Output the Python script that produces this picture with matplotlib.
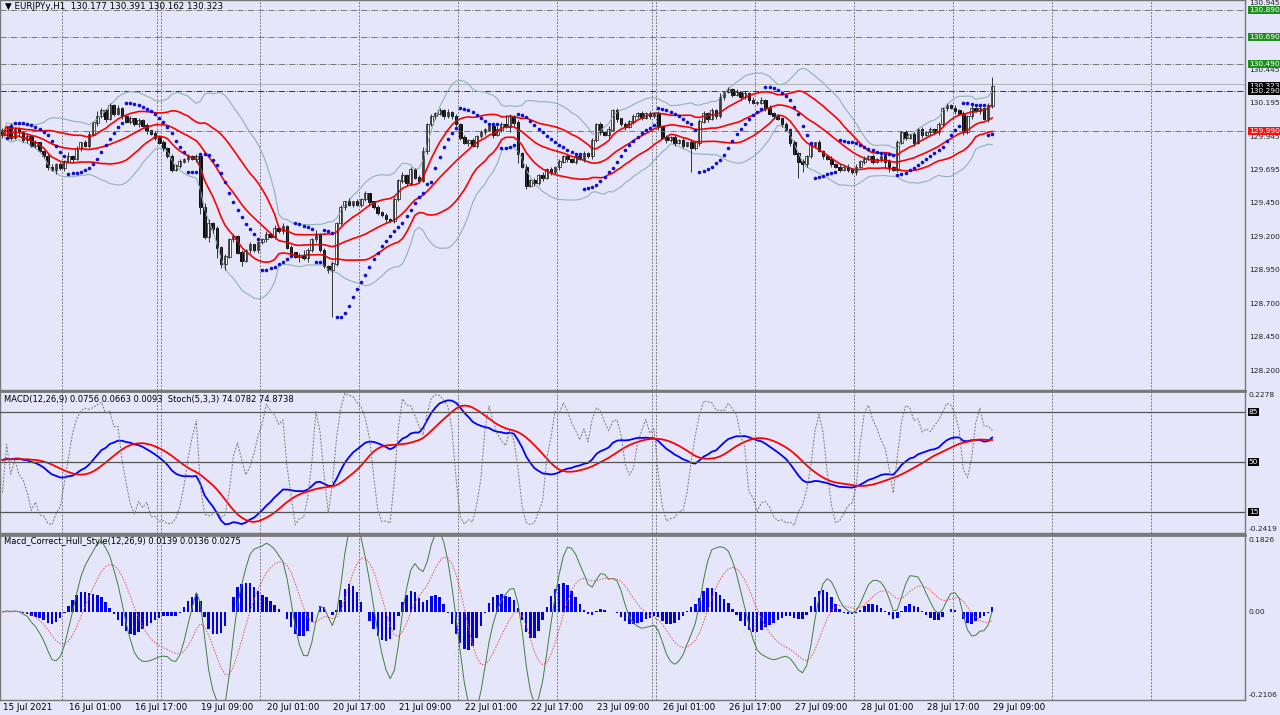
import numpy as np
import pandas as pd
import matplotlib
matplotlib.use("Agg")
import matplotlib.pyplot as plt
import matplotlib.transforms as mtransforms

# ---------------- data ----------------
closes = [
129.96,130.02,129.94,130.00,129.98,129.92,129.95,129.88,129.90,129.84,129.80,129.72,129.70,129.74,129.71,
129.76,129.80,129.78,129.86,129.90,129.88,129.96,130.05,130.10,130.14,130.08,130.18,130.12,130.16,130.10,130.06,130.08,130.04,130.07,130.03,129.99,129.97,129.94,129.90,
129.86,129.80,129.70,129.73,129.76,129.78,129.80,129.78,129.80,129.42,129.20,129.30,129.26,129.12,129.00,129.05,129.18,129.20,129.08,129.02,129.10,129.14,129.10,129.16,
129.18,129.22,129.20,129.26,129.24,129.28,129.12,129.08,129.05,129.06,129.04,129.10,129.18,129.22,129.10,128.98,128.95,129.00,129.30,129.42,129.46,129.44,129.46,129.44,
129.48,129.52,129.46,129.42,129.38,129.36,129.33,129.32,129.48,129.62,129.66,129.60,129.70,129.64,129.62,129.84,130.04,130.10,130.12,130.14,130.10,130.13,130.10,130.04,
129.94,129.90,129.92,129.88,129.95,129.98,130.00,130.02,129.96,130.00,130.04,130.02,130.10,130.05,129.82,129.72,129.58,129.62,129.60,129.66,129.64,129.70,129.68,129.72,
129.76,129.80,129.78,129.76,129.80,129.78,129.82,129.80,129.92,130.04,129.98,129.96,130.00,130.14,130.08,130.04,130.02,130.06,130.10,130.12,130.09,130.12,130.10,130.12,
130.02,129.94,129.92,129.94,129.90,129.92,129.88,129.90,129.86,129.90,130.06,130.12,130.08,130.14,130.10,130.24,130.28,130.30,130.26,130.28,130.24,130.27,130.22,130.20,
130.20,130.22,130.16,130.12,130.10,130.08,130.04,130.00,129.90,129.82,129.76,129.74,129.80,129.88,129.90,129.84,129.80,129.78,129.74,129.72,129.70,129.72,129.70,129.68,
129.72,129.76,129.78,129.80,129.76,129.78,129.80,129.76,129.72,129.70,129.90,129.98,129.94,129.96,129.90,130.00,129.96,129.98,130.00,129.98,130.04,130.16,130.18,130.16,
130.14,130.12,129.98,130.10,130.16,130.14,130.16,130.08,130.177,130.323]
first_open = 129.99
# wick sizes in 0.01 units (base-36 digits)
wick_up = ("2131212121 1221213121 2314212121 1212121212 1212121213 3121212121 2121213121 "
           "2124213121 2121312121 1212121212 1231212121 2121212121 3272121212 1212121212 "
           "1212121312 1212121212 1212121212 2121312121 2121212121 2121212121 1212121212 "
           "1212121212 1212121212 1212121212 7")
wick_dn = ("2121312121 1213121212 1212121212 1212121212 1212121252 4383512141 2121212121 "
           "2141312112 z212121212 1212121212 1212121212 1212121212 1214271212 1212121212 "
           "1212121212 1212121212 1212121i12 1212121212 1212121212 121c621212 1212121212 "
           "1212541212 1212121212 1212121212 2")
levels_green = [130.890, 130.690, 130.490]
level_black = 130.290
level_red = 129.990
price_ticks = [130.945, 130.445, 130.195, 129.945, 129.695, 129.450, 129.200, 128.950, 128.700, 128.450, 128.200]

c = np.array(closes)
n = len(c)
o = np.concatenate([[first_open], c[:-1]])
o[-1] = 130.177
wu = np.array([int(ch, 36) for ch in wick_up.replace(" ", "")]) * 0.01
wd = np.array([int(ch, 36) for ch in wick_dn.replace(" ", "")]) * 0.01
h = np.maximum(o, c) + wu[:n]
l = np.minimum(o, c) - wd[:n]
h[-1], l[-1] = 130.391, 130.162

# times (hourly, weekdays only)
times = []
t = pd.Timestamp("2021-07-15 09:00")
while len(times) < n:
    if t.weekday() < 5:
        times.append(t)
    t += pd.Timedelta(hours=1)

s = pd.Series(c)
ma = s.rolling(20, min_periods=1).mean()
sd = s.rolling(20, min_periods=2).std(ddof=0).fillna(0)
bb_up, bb_lo = ma + 2 * sd, ma - 2 * sd
rd_up, rd_lo = ma + 1 * sd, ma - 1 * sd

# Parabolic SAR
sar = np.zeros(n); up = True; af = 0.02; ep = h[0]; sar[0] = l[0]
for i in range(1, n):
    sar[i] = sar[i-1] + af * (ep - sar[i-1])
    if up:
        sar[i] = min(sar[i], l[i-1], l[max(i-2, 0)])
        if l[i] < sar[i]:
            up = False; sar[i] = ep; ep = l[i]; af = 0.02
        elif h[i] > ep:
            ep = h[i]; af = min(af + 0.02, 0.2)
    else:
        sar[i] = max(sar[i], h[i-1], h[max(i-2, 0)])
        if h[i] > sar[i]:
            up = True; sar[i] = ep; ep = h[i]; af = 0.02
        elif l[i] < ep:
            ep = l[i]; af = min(af + 0.02, 0.2)

macd = s.ewm(span=12, adjust=False).mean() - s.ewm(span=26, adjust=False).mean()
sig = macd.rolling(9, min_periods=1).mean()
hh = pd.Series(h).rolling(5, min_periods=1).max(); ll = pd.Series(l).rolling(5, min_periods=1).min()
num = (s - ll).rolling(3, min_periods=1).sum(); den = (hh - ll).rolling(3, min_periods=1).sum()
stoch = 100 * num / den.replace(0, np.nan)

def wma(x, p):
    w = np.arange(1, p + 1)
    return x.rolling(p, min_periods=1).apply(lambda a: np.dot(a, w[-len(a):]) / w[-len(a):].sum(), raw=True)
def hma(x, p):
    return wma(2 * wma(x, p // 2) - wma(x, p), int(np.sqrt(p)))
hmacd = hma(s, 12) - hma(s, 26)
hsig = hmacd.ewm(span=9, adjust=False).mean()
hhist = 0.5 * (hmacd - hsig)

# ---------------- drawing ----------------
BG = "#e6e6fa"
FS = 5.4
fig = plt.figure(figsize=(12.8, 7.15), dpi=100)
fig.patch.set_facecolor(BG)
W = 1245 / 1280
ax1 = fig.add_axes([0, 1 - 390 / 715, W, 390 / 715])
ax2 = fig.add_axes([0, 1 - 533 / 715, W, 142 / 715])
ax3 = fig.add_axes([0, 1 - 700 / 715, W, 165 / 715])
x = np.arange(n)
XL = (-0.6, 301.3)
for a in (ax1, ax2, ax3):
    a.set_facecolor(BG)
    a.set_xlim(*XL)
    a.set_xticks([]); a.set_yticks([])
    for sp in a.spines.values():
        sp.set_color("#777777"); sp.set_linewidth(1.0)
    day_starts = [i for i in range(n) if times[i].hour == 0]
    for i in day_starts + [255, 279]:
        a.axvline(i - 0.5, color="#555555", ls=(0, (2, 2)), lw=0.6)
    for i in day_starts:
        if times[i].weekday() == 0:
            a.axvline(i - 1.5, color="#555555", ls=(0, (2, 2)), lw=0.6)
ax2.spines["top"].set_linewidth(2); ax3.spines["top"].set_linewidth(2)

# main
ax1.set_ylim(128.057, 130.967)
for lv in levels_green:
    ax1.axhline(lv, color="#777777", ls="-.", lw=0.7)
ax1.axhline(130.343, color="#aaaaaa", lw=0.6)
ax1.axhline(level_black, color="#333333", ls="-.", lw=0.7)
ax1.axhline(level_red, color="#d05050", ls="-.", lw=0.7)
ax1.plot(x, bb_up, color="#8fb3b3", lw=0.8)
ax1.plot(x, bb_lo, color="#8fb3b3", lw=0.8)
for ser in (rd_up, ma, rd_lo):
    ax1.plot(x, ser, color="#ff0000", lw=1.2)
ax1.vlines(x, l, h, color="#333333", lw=0.7)
bull = c >= o
ax1.bar(x[bull], (c - o)[bull] + 0.004, bottom=o[bull], width=0.65, color="white", edgecolor="#333333", lw=0.6)
ax1.bar(x[~bull], (o - c)[~bull] + 0.004, bottom=c[~bull], width=0.65, color="black", edgecolor="black", lw=0.6)
ax1.scatter(x[1:], sar[1:], s=2.5, color="#1010d0", zorder=5)
ax1.text(0.004, 0.995, "\u25bc EURJPYy,H1  130.177 130.391 130.162 130.323", transform=ax1.transAxes,
         fontsize=6.3, va="top", ha="left")

def rlabel(a, v, txt, fc=None, tc="#222222"):
    tr = mtransforms.blended_transform_factory(a.transAxes, a.transData)
    kw = {}
    if fc:
        kw["bbox"] = dict(boxstyle="square,pad=0.12", fc=fc, ec="none")
    a.text(1.003, v, txt, transform=tr, fontsize=FS, va="center", ha="left", color=tc, clip_on=False, **kw)

for p in price_ticks:
    rlabel(ax1, p, f"{p:.3f}")
for lv in levels_green:
    rlabel(ax1, lv, f"{lv:.3f}", fc="#1f8f1f", tc="white")
rlabel(ax1, 130.323, "130.323", fc="black", tc="white")
rlabel(ax1, level_black, "130.290", fc="black", tc="white")
rlabel(ax1, level_red, "129.990", fc="#ff1010", tc="white")

# MACD + stoch
ax2.set_ylim(-0.2559, 0.2418)
ax2b = ax2.twinx(); ax2b.set_ylim(0, 100); ax2b.set_yticks([]); ax2b.set_xlim(*XL)
for sp in ax2b.spines.values(): sp.set_visible(False)
for lv in (85, 50, 15):
    ax2b.axhline(lv, color="#555555", lw=0.9)
ax2b.plot(x, stoch, color="#777777", ls=(0, (2, 1.5)), lw=0.7)
ax2.plot(x, macd, color="#0000ff", lw=1.3, zorder=4)
ax2.plot(x, sig, color="#ff0000", lw=1.3, zorder=4)
ax2.text(0.003, 0.97, "MACD(12,26,9) 0.0756 0.0663 0.0093  Stoch(5,3,3) 74.0782 74.8738",
         transform=ax2.transAxes, fontsize=6.0, va="top")
rlabel(ax2, 0.2278, "0.2278"); rlabel(ax2, -0.2419, "-0.2419")
for lv in (85, 50, 15):
    rlabel(ax2b, lv, str(lv), fc="black", tc="white")

# Hull MACD
ax3.set_ylim(-0.2233, 0.1953)
ax3.bar(x, hhist, width=0.6, color="#0000ee")
ax3.plot(x, hmacd, color="#3f7f3f", lw=0.7)
ax3.plot(x, hsig, color="#e05050", ls=(0, (1.5, 1.5)), lw=0.7)
ax3.text(0.003, 0.985, "Macd_Correct_Hull_Style(12,26,9) 0.0139 0.0136 0.0275",
         transform=ax3.transAxes, fontsize=6.0, va="top")
rlabel(ax3, 0.1826, "0.1826"); rlabel(ax3, 0.0, "0.00"); rlabel(ax3, -0.2106, "-0.2106")

# time labels
for i in range(0, n, 16):
    txt = "15 Jul 2021" if i == 0 else times[i].strftime("%d Jul %H:%M")
    ax3.text(i + 0.2, -0.02, txt, transform=mtransforms.blended_transform_factory(ax3.transData, ax3.transAxes),
             fontsize=6.3, va="top", ha="left")

fig.savefig("out.png", dpi=100, facecolor=BG)
